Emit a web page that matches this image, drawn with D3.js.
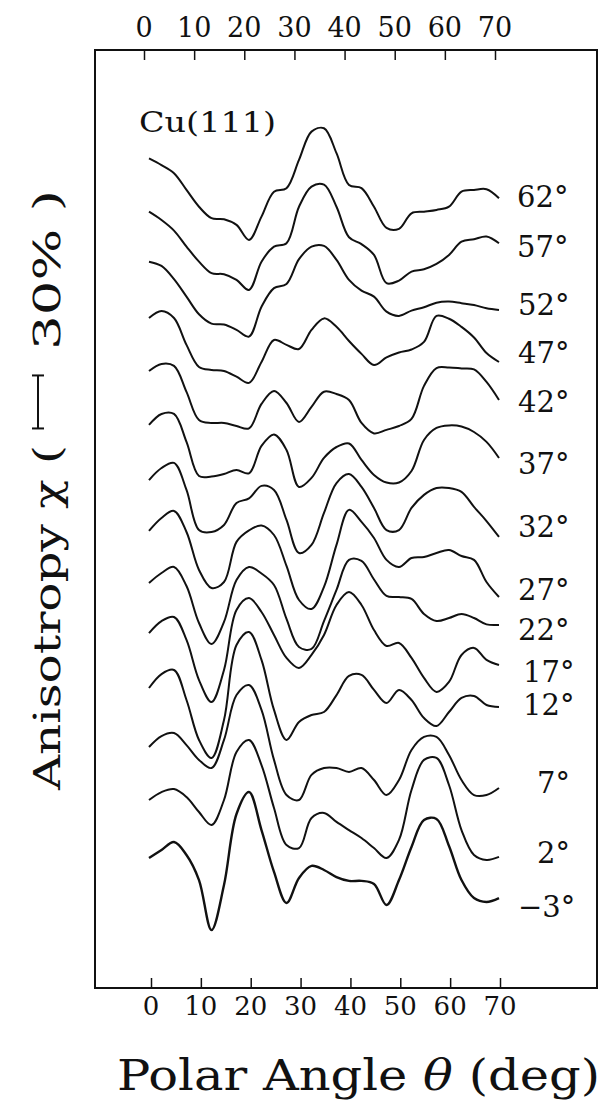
<!DOCTYPE html>
<html>
<head>
<meta charset="utf-8">
<script src="https://cdn.jsdelivr.net/npm/d3@7/dist/d3.min.js"></script>
<style>
  body { margin: 0; background: #fff; }
  svg { display: block; }
</style>
</head>
<body>
<script>
// polar angle grid (deg)
const theta = [0, 2.5, 5, 7.5, 10, 12.5, 15, 17.5, 20, 22.5, 25, 27.5, 30, 32.5, 35,
               37.5, 40, 42.5, 45, 47.5, 50, 52.5, 55, 57.5, 60, 62.5, 65, 67.5, 70];

// azimuth labels, top to bottom, and vertical offset of each trace (%)
const azimuths = ['62°', '57°', '52°', '47°', '42°', '37°', '32°', '27°', '22°', '17°', '12°', '7°', '2°', '−3°'];
const offsets = [390, 360, 330, 300, 270, 240, 210, 180, 150, 120, 90, 60, 30, 0];

// anisotropy chi (%)
const chi62 = [17.9, 14.1, 9.5, 0, -9.5, -16, -16.6, -19.8, -28.3, -15.1, -1.0, 1.0, 17, 33, 34.9, 20.8, 2.8, 1, -9.5, -21.5, -22, -13.2, -12.3, -11.3, -9.5, -1, 0, 0.4, -4.7];
const chi57 = [17.7, 13.0, 7.0, -2.1, -10.6, -17.1, -17.7, -20.9, -26.6, -10.6, -2.1, -0.2, 20.5, 31.9, 33.0, 20.5, 3.2, -0.7, -6.8, -22.8, -21.3, -16.2, -14.9, -11.9, -6.8, 0.7, 2.1, 3.6, -0.2];
const chi52 = [19.4, 17.0, 9.5, -0.4, -10.4, -15.7, -16.2, -19.2, -23.0, -6.1, 4.4, 6.8, 20.8, 27.9, 28.3, 20.4, 9.1, 3.0, -0.4, -8.9, -11.3, -8.3, -6.4, -3.8, -3.2, -4.1, -5.1, -7.0, -7.9];
const chi47 = [17.5, 21.5, 17.5, 2.3, -10.2, -11.9, -12.5, -15.7, -19.2, -7.4, 5.1, 2.3, 0, 10.8, 17.3, 12.5, 4.5, -2.8, -9.1, -4.8, -2.0, -0.3, 4.0, 18.7, 17.1, 12.5, 6.5, -2.3, -7.4];
const chi42 = [17.5, 21.5, 20.4, 5.7, -10.2, -11.9, -11.9, -13.6, -15.0, -1.1, 6.2, -0.6, -11.3, -2.8, 5.8, 4.5, 1.1, -11.9, -17.8, -15.8, -13.6, -9.6, 9.1, 19.2, 19.5, 19.0, 18.4, 11.3, 1.1];
const chi37 = [17.0, 23.2, 23.2, 7.4, -11.9, -12.2, -10.8, -8.5, -10.4, 5.1, 11.6, 2.8, -18.1, -13.0, -1.7, 4.5, 6.5, -2.8, -11.3, -15.6, -15.6, -9.1, 8.5, 15.3, 16.7, 16.1, 13.0, 7.4, -1.7];
const chi32 = [15.8, 22.6, 25.5, 10.2, -12.5, -13.6, -9.6, 2.8, 5.4, 12.5, 10.2, -6.8, -25.5, -20.9, -2.8, 14.1, 19.2, 11.9, 0, -12.5, -12.5, 0, 7.4, 11.3, 11.3, 9.1, 0.6, -7.4, -16.4];
const chi27 = [17.0, 24.3, 28.3, 16.4, -5.1, -15.3, -11.9, 10.8, 17.3, 20.1, 14.7, -2.8, -22.1, -27.2, -14.7, 9.1, 28.9, 22.1, 13.0, 0.6, -3.4, 1.7, 2.3, 4.5, 6.2, 2.8, 0.6, -11.9, -20.4];
const chi22 = [17.5, 23.2, 26.6, 15.8, -5.1, -17.0, -4.5, 19.2, 26.6, 22.9, 16.4, -2.8, -18.7, -19.8, -4.0, 13.6, 30.6, 30.0, 19.5, 10.2, 9.6, 8.5, 0, -4.0, -2.3, 0, -2.3, -5.9, -6.2];
const chi17 = [19.2, 26.0, 28.3, 15.3, -7.4, -19.8, -1.7, 32.3, 39.0, 31.1, 18.1, 5.1, -0.6, 6.8, 18.1, 35.1, 42.4, 35.1, 20.9, 11.9, 13.6, 5.1, -6.2, -14.1, -8.5, 6.8, 10.8, 4.0, 1.1];
const chi12 = [18.1, 26.0, 28.3, 11.3, -11.3, -21.5, 0, 42.4, 49.8, 34.0, 5.7, -11.3, -1.1, 2.8, 4.5, 14.1, 24.9, 25.5, 17.0, 9.6, 17.0, 11.3, 1.1, -3.4, 4.5, 12.5, 13.6, 8.5, 7.4];
const chi7 = [14.7, 20.9, 22.6, 15.8, 7.4, 2.8, 18.7, 44.1, 49.8, 35.7, 7.4, -12.5, -15.3, -1.1, 2.8, 2.8, 0.6, 2.8, -4.0, -12.5, -4.0, 13.0, 20.4, 20.4, 10.2, -4.0, -12.5, -12.5, -8.5];
const chi2 = [14.7, 19.2, 20.9, 16.4, 7.9, 0.6, 14.7, 41.9, 48.7, 34.5, 10.2, -10.8, -12.5, 4.5, 7.4, 2.3, -2.3, -6.8, -12.5, -18.1, -7.9, 20.4, 37.4, 38.5, 23.2, -2.3, -16.4, -19.2, -17.5];
const chiM3 = [11.9, 16.4, 20.9, 13.6, -0.6, -28.9, -3.4, 36.8, 49.2, 27.7, 4.0, -13.6, 0.6, 7.4, 5.1, 1.1, -1.1, -1.1, -2.8, -14.7, -0.6, 18.1, 33.4, 34.0, 18.7, -0.6, -10.8, -13.0, -10.8];

const traces = [chi62, chi57, chi52, chi47, chi42, chi37, chi32, chi27, chi22, chi17, chi12, chi7, chi2, chiM3];

const tickValues = [0, 10, 20, 30, 40, 50, 60, 70];
const scaleBar = [255, 285];   // 30 % marker, in stacked units

const W = 605, H = 1102;
const frame = { left: 95, right: 597, top: 50, bottom: 988 };

const svg = d3.select('body').append('svg')
    .attr('width', W)
    .attr('height', H)
    .style('font-family', '"DejaVu Serif", serif');

// scales
const x = d3.scaleLinear().domain([0, 70]).range([149, 499]);
const xTop = d3.scaleLinear().domain([0, 70]).range([144, 495]);
const xBottom = d3.scaleLinear().domain([0, 70]).range([151, 500]);
const y = d3.scaleLinear().domain([-61.7, 469.2]).range([frame.bottom, frame.top]);

// frame
svg.append('rect')
    .attr('x', frame.left)
    .attr('y', frame.top)
    .attr('width', frame.right - frame.left)
    .attr('height', frame.bottom - frame.top)
    .attr('fill', 'none')
    .attr('stroke', '#111')
    .attr('stroke-width', 2);

// top axis, ticks inside the frame
const topAxis = svg.append('g')
    .attr('transform', `translate(0,${frame.top})`)
    .call(d3.axisBottom(xTop).tickValues(tickValues).tickSize(10).tickFormat(''));
topAxis.select('.domain').remove();
topAxis.selectAll('line').attr('stroke', '#111').attr('stroke-width', 1.5);

svg.append('g').selectAll('text')
    .data(tickValues)
    .join('text')
    .attr('x', d => xTop(d))
    .attr('y', 37)
    .attr('text-anchor', 'middle')
    .attr('font-size', 27)
    .attr('fill', '#111')
    .text(d => d);

// bottom axis, ticks inside the frame
const bottomAxis = svg.append('g')
    .attr('transform', `translate(0,${frame.bottom})`)
    .call(d3.axisTop(xBottom).tickValues(tickValues).tickSize(10).tickFormat(''));
bottomAxis.select('.domain').remove();
bottomAxis.selectAll('line').attr('stroke', '#111').attr('stroke-width', 1.5);

svg.append('g').selectAll('text')
    .data(tickValues)
    .join('text')
    .attr('x', d => xBottom(d))
    .attr('y', 1015)
    .attr('text-anchor', 'middle')
    .attr('font-size', 26)
    .attr('fill', '#111')
    .text(d => d);

// traces
const line = d3.line()
    .x((d, i) => x(theta[i]))
    .y(d => d)
    .curve(d3.curveCatmullRom.alpha(0.5));

svg.append('g').selectAll('path')
    .data(traces)
    .join('path')
    .attr('d', (vals, k) => line(vals.map(v => y(v + offsets[k]))))
    .attr('fill', 'none')
    .attr('stroke', '#111')
    .attr('stroke-width', (d, k) => k === traces.length - 1 ? 2.4 : 2)
    .attr('stroke-linejoin', 'round');

// azimuth labels at the right end of each trace
const labelY = [207, 257, 315, 363, 412, 474, 537, 600, 640, 682, 715, 793, 863, 917];
const labelX = [517, 517, 518, 518, 518, 518, 518, 518, 518, 523, 523, 537, 537, 518];
svg.append('g').selectAll('text')
    .data(azimuths)
    .join('text')
    .attr('x', (d, i) => labelX[i])
    .attr('y', (d, i) => labelY[i])
    .attr('font-size', 29)
    .attr('fill', '#111')
    .text(d => d);

// sample name
svg.append('text')
    .attr('x', 139)
    .attr('y', 132)
    .attr('font-size', 28)
    .attr('textLength', 137)
    .attr('lengthAdjust', 'spacingAndGlyphs')
    .attr('fill', '#111')
    .text('Cu(111)');

// x title
const xTitle = svg.append('text')
    .attr('x', 117)
    .attr('y', 1090)
    .attr('font-size', 42)
    .attr('textLength', 483)
    .attr('lengthAdjust', 'spacingAndGlyphs')
    .attr('fill', '#111');
xTitle.append('tspan').text('Polar  Angle  ');
xTitle.append('tspan').attr('font-style', 'italic').text('θ');
xTitle.append('tspan').text('  (deg)');

// y title, rotated, with the 30 % bar in the middle
const yTitle = svg.append('g').attr('fill', '#111');
yTitle.append('text')
    .attr('transform', 'translate(60,790) rotate(-90)')
    .attr('font-size', 38)
    .attr('textLength', 345)
    .attr('lengthAdjust', 'spacingAndGlyphs')
    .text('Anisotropy χ (');
yTitle.append('text')
    .attr('transform', 'translate(60,350) rotate(-90)')
    .attr('font-size', 38)
    .attr('textLength', 160)
    .attr('lengthAdjust', 'spacingAndGlyphs')
    .text('30% )');

const barX = 38;
const bar = svg.append('g').attr('stroke', '#111').attr('stroke-width', 2);
bar.append('line')
    .attr('x1', barX).attr('x2', barX)
    .attr('y1', y(scaleBar[0])).attr('y2', y(scaleBar[1]));
bar.selectAll('line.cap')
    .data(scaleBar)
    .join('line')
    .attr('class', 'cap')
    .attr('x1', barX - 6).attr('x2', barX + 6)
    .attr('y1', d => y(d)).attr('y2', d => y(d));
</script>
</body>
</html>
